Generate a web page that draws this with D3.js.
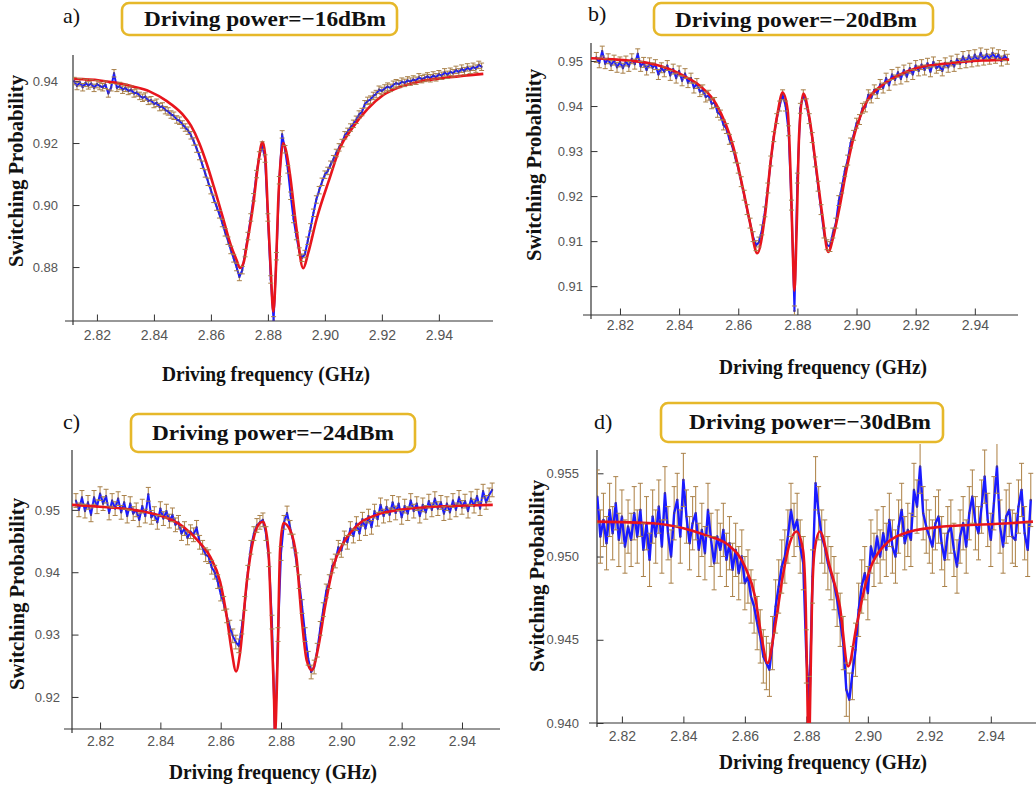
<!DOCTYPE html>
<html>
<head>
<meta charset="utf-8">
<script src="https://cdn.jsdelivr.net/npm/d3@7/dist/d3.min.js"></script>
<style>
html,body{margin:0;padding:0;background:#fff;}
svg{display:block;}
</style>
</head>
<body>
<svg id="fig" width="1036" height="788"></svg>
<script>
// Driving-frequency sweep (GHz), shared by the four measurements
const sweep = [
 2.812,2.813,2.814,2.815,2.816,2.817,2.818,2.819,2.820,2.821,
 2.822,2.823,2.824,2.825,2.826,2.827,2.828,2.829,2.830,2.831,
 2.832,2.833,2.834,2.835,2.836,2.837,2.838,2.839,2.840,2.841,
 2.842,2.843,2.844,2.845,2.846,2.847,2.848,2.849,2.850,2.851,
 2.852,2.853,2.854,2.855,2.856,2.857,2.858,2.859,2.860,2.861,
 2.862,2.863,2.864,2.865,2.866,2.867,2.868,2.869,2.870,2.871,
 2.872,2.873,2.874,2.875,2.876,2.877,2.878,2.879,2.880,2.881,
 2.882,2.883,2.884,2.885,2.886,2.887,2.888,2.889,2.890,2.891,
 2.892,2.893,2.894,2.895,2.896,2.897,2.898,2.899,2.900,2.901,
 2.902,2.903,2.904,2.905,2.906,2.907,2.908,2.909,2.910,2.911,
 2.912,2.913,2.914,2.915,2.916,2.917,2.918,2.919,2.920,2.921,
 2.922,2.923,2.924,2.925,2.926,2.927,2.928,2.929,2.930,2.931,
 2.932,2.933,2.934,2.935,2.936,2.937,2.938,2.939,2.940,2.941,
 2.942,2.943,2.944,2.945,2.946,2.947,2.948,2.949,2.950,2.951,
 2.952,2.953,2.954,2.955
];

// Measured switching probability, driving power -16 dBm
const probA = [
 0.9400,0.9384,0.9396,0.9380,0.9394,0.9386,0.9392,0.9378,0.9390,0.9384,
 0.9380,0.9388,0.9360,0.9380,0.9425,0.9378,0.9384,0.9372,0.9378,0.9368,
 0.9372,0.9360,0.9363,0.9352,0.9346,0.9350,0.9336,0.9338,0.9326,0.9330,
 0.9316,0.9318,0.9306,0.9302,0.9292,0.9288,0.9276,0.9272,0.9260,0.9250,
 0.9240,0.9225,0.9205,0.9182,0.9158,0.9130,0.9102,0.9075,0.9048,0.9020,
 0.8995,0.8970,0.8942,0.8912,0.8885,0.8855,0.8828,0.8800,0.8768,0.8790,
 0.8845,0.8900,0.8960,0.9025,0.9100,0.9160,0.9192,0.9150,0.8960,0.8760,
 0.8628,0.8835,0.9080,0.9228,0.9180,0.9115,0.9030,0.8955,0.8900,0.8850,
 0.8830,0.8842,0.8885,0.8928,0.8975,0.9018,0.9048,0.9075,0.9098,0.9110,
 0.9130,0.9148,0.9168,0.9186,0.9200,0.9225,0.9236,0.9250,0.9262,0.9275,
 0.9292,0.9300,0.9325,0.9336,0.9340,0.9352,0.9358,0.9372,0.9368,0.9376,
 0.9382,0.9378,0.9388,0.9393,0.9390,0.9398,0.9394,0.9402,0.9398,0.9405,
 0.9401,0.9412,0.9406,0.9410,0.9415,0.9409,0.9418,0.9412,0.9422,0.9417,
 0.9428,0.9420,0.9430,0.9425,0.9436,0.9428,0.9440,0.9432,0.9444,0.9436,
 0.9446,0.9440,0.9452,0.9446
];
// Measured switching probability, driving power -20 dBm
const probB = [
 0.9508,0.9496,0.9522,0.9494,0.9505,0.9490,0.9502,0.9486,0.9498,0.9484,
 0.9500,0.9488,0.9505,0.9493,0.9516,0.9488,0.9497,0.9480,0.9496,0.9485,
 0.9492,0.9470,0.9485,0.9476,0.9490,0.9468,0.9482,0.9462,0.9478,0.9456,
 0.9472,0.9452,0.9462,0.9440,0.9450,0.9432,0.9436,0.9420,0.9424,0.9405,
 0.9408,0.9386,0.9380,0.9358,0.9350,0.9326,0.9310,0.9285,0.9262,0.9232,
 0.9202,0.9170,0.9140,0.9110,0.9090,0.9098,0.9125,0.9165,0.9218,0.9278,
 0.9332,0.9372,0.9400,0.9425,0.9400,0.9345,0.9180,0.8945,0.9240,0.9395,
 0.9425,0.9405,0.9372,0.9330,0.9276,0.9222,0.9170,0.9118,0.9092,0.9088,
 0.9118,0.9140,0.9190,0.9218,0.9255,0.9280,0.9318,0.9335,0.9362,0.9370,
 0.9395,0.9398,0.9425,0.9418,0.9436,0.9428,0.9448,0.9440,0.9462,0.9446,
 0.9470,0.9458,0.9475,0.9460,0.9480,0.9465,0.9484,0.9470,0.9490,0.9478,
 0.9492,0.9480,0.9495,0.9476,0.9498,0.9484,0.9490,0.9478,0.9496,0.9486,
 0.9500,0.9488,0.9504,0.9494,0.9510,0.9496,0.9512,0.9498,0.9514,0.9500,
 0.9518,0.9502,0.9515,0.9504,0.9518,0.9506,0.9514,0.9500,0.9512,0.9504
];
// Measured switching probability, driving power -24 dBm
const probC = [
 0.9515,0.9500,0.9520,0.9498,0.9512,0.9492,0.9520,0.9505,0.9526,0.9510,
 0.9522,0.9495,0.9515,0.9502,0.9518,0.9496,0.9512,0.9490,0.9510,0.9494,
 0.9500,0.9484,0.9506,0.9490,0.9525,0.9488,0.9494,0.9480,0.9502,0.9486,
 0.9498,0.9482,0.9492,0.9476,0.9480,0.9462,0.9470,0.9455,0.9465,0.9460,
 0.9472,0.9448,0.9440,0.9428,0.9425,0.9408,0.9400,0.9385,0.9365,0.9350,
 0.9330,0.9312,0.9298,0.9288,0.9282,0.9312,0.9350,0.9400,0.9440,0.9462,
 0.9475,0.9480,0.9484,0.9462,0.9420,0.9320,0.9135,0.9300,0.9430,0.9480,
 0.9495,0.9472,0.9450,0.9420,0.9385,0.9345,0.9300,0.9262,0.9240,0.9248,
 0.9275,0.9310,0.9340,0.9370,0.9385,0.9410,0.9418,0.9440,0.9435,0.9455,
 0.9448,0.9470,0.9458,0.9478,0.9462,0.9485,0.9470,0.9490,0.9472,0.9498,
 0.9485,0.9508,0.9490,0.9505,0.9492,0.9512,0.9495,0.9510,0.9488,0.9506,
 0.9494,0.9515,0.9498,0.9510,0.9490,0.9508,0.9496,0.9514,0.9500,0.9518,
 0.9502,0.9512,0.9494,0.9510,0.9496,0.9515,0.9500,0.9520,0.9504,0.9514,
 0.9498,0.9518,0.9506,0.9522,0.9502,0.9530,0.9512,0.9524,0.9532
];
// Measured switching probability, driving power -30 dBm
const probD = [
 0.9536,0.9512,0.9522,0.9508,0.9528,0.9514,0.9532,0.9510,0.9524,0.9506,
 0.9518,0.9510,0.9526,0.9512,0.9528,0.9504,0.9520,0.9498,0.9524,0.9512,
 0.9530,0.9506,0.9538,0.9514,0.9500,0.9526,0.9534,0.9512,0.9546,0.9524,
 0.9508,0.9520,0.9526,0.9504,0.9516,0.9502,0.9528,0.9510,0.9496,0.9512,
 0.9504,0.9516,0.9498,0.9508,0.9492,0.9504,0.9490,0.9500,0.9484,0.9488,
 0.9476,0.9470,0.9460,0.9452,0.9440,0.9436,0.9432,0.9448,0.9470,0.9482,
 0.9494,0.9500,0.9512,0.9528,0.9516,0.9522,0.9506,0.9496,0.9440,0.9412,
 0.9488,0.9544,0.9526,0.9512,0.9506,0.9496,0.9490,0.9484,0.9474,0.9462,
 0.9448,0.9420,0.9414,0.9430,0.9444,0.9468,0.9482,0.9490,0.9478,0.9506,
 0.9498,0.9512,0.9500,0.9514,0.9504,0.9522,0.9506,0.9500,0.9518,0.9528,
 0.9508,0.9516,0.9510,0.9540,0.9530,0.9554,0.9526,0.9518,0.9512,0.9506,
 0.9520,0.9524,0.9508,0.9498,0.9514,0.9518,0.9504,0.9494,0.9512,0.9520,
 0.9506,0.9526,0.9536,0.9520,0.9514,0.9530,0.9548,0.9522,0.9510,0.9532,
 0.9554,0.9518,0.9506,0.9524,0.9528,0.9512,0.9510,0.9530,0.9540,0.9514,
 0.9504,0.9534
];

// Half-length of the error bars for each measurement
const errA = 0.0012, errB = 0.0011, errC = 0.0011, errD = 0.0016;

// Fitted curves (three-dip model), sampled as frequency / probability pairs
const fitFreqA = [2.812,2.821,2.827,2.8327,2.8386,2.8444,2.850,2.853,2.856,2.8585,2.861,2.8643,2.867,2.869,2.8702,2.8715,2.8725,2.8749,2.8766,2.8781,2.8790,2.8800,2.8810,2.8819,2.8828,2.8836,2.8845,2.8854,2.8865,2.8877,2.8901,2.8924,2.8941,2.8971,2.9018,2.9053,2.9094,2.915,2.9205,2.926,2.9322,2.9439,2.9556];
const fitProbA = [0.9407,0.9402,0.9394,0.9382,0.9366,0.9336,0.9293,0.9256,0.9198,0.9134,0.9060,0.8956,0.8870,0.8823,0.8797,0.8815,0.8866,0.9005,0.9134,0.9204,0.9165,0.8975,0.8790,0.8656,0.8790,0.9005,0.9145,0.9200,0.9170,0.9102,0.8919,0.8796,0.8844,0.8955,0.9090,0.9185,0.9245,0.9310,0.9355,0.9380,0.9396,0.9412,0.9423];

const fitFreqB = [2.8102,2.819,2.830,2.836,2.841,2.847,2.8525,2.8583,2.8617,2.8640,2.8664,2.8690,2.8710,2.8733,2.8750,2.8767,2.8778,2.8786,2.8790,2.8797,2.8806,2.8820,2.8840,2.8863,2.8885,2.8904,2.8925,2.8944,2.8965,2.8988,2.9033,2.9088,2.9144,2.9201,2.9313,2.9426,2.9516];
const fitProbB = [0.9506,0.9503,0.9495,0.9484,0.9469,0.9445,0.9405,0.9310,0.9213,0.9140,0.9073,0.9155,0.9280,0.9384,0.9430,0.9391,0.9228,0.9043,0.8990,0.9117,0.9339,0.9428,0.9376,0.9265,0.9154,0.9076,0.9120,0.9180,0.9255,0.9325,0.9408,0.9447,0.9469,0.9484,0.9495,0.9501,0.9503];

const fitFreqC = [2.8106,2.820,2.831,2.8366,2.8422,2.8476,2.8531,2.8565,2.8598,2.862,2.8636,2.8651,2.8664,2.8686,2.8708,2.873,2.8741,2.8758,2.8769,2.8777,2.8780,2.8788,2.8797,2.8808,2.883,2.8852,2.8868,2.8885,2.8902,2.8924,2.8946,2.8973,2.9007,2.9062,2.9117,2.9194,2.9305,2.9415,2.9502];
const fitProbC = [0.9508,0.9505,0.9500,0.9495,0.9487,0.9473,0.9447,0.9425,0.9385,0.9329,0.9275,0.9241,0.9270,0.9382,0.9452,0.9479,0.9481,0.9436,0.9302,0.9195,0.9140,0.9249,0.9436,0.9479,0.9468,0.9420,0.9329,0.9259,0.9243,0.9281,0.9345,0.9409,0.9447,0.9479,0.9492,0.9500,0.9505,0.9507,0.9508];

const fitFreqD = [2.8120,2.830,2.840,2.847,2.8546,2.860,2.8633,2.8654,2.8674,2.8698,2.8725,2.8746,2.8768,2.8789,2.8798,2.8804,2.8808,2.8812,2.8818,2.8827,2.8844,2.8876,2.8909,2.8936,2.8963,2.8996,2.9050,2.9137,2.9245,2.9462,2.9537];
const fitProbD = [0.9521,0.9520,0.9517,0.9513,0.9507,0.9494,0.9476,0.9452,0.9436,0.9458,0.9490,0.9508,0.9515,0.9504,0.9470,0.9410,0.9370,0.9410,0.9470,0.9504,0.9515,0.9494,0.9470,0.9434,0.9458,0.9486,0.9506,0.9515,0.9518,0.9520,0.9521];

// Axis ticks and their labels
const xTickVals = [2.82, 2.84, 2.86, 2.88, 2.90, 2.92, 2.94];
const xTickLabels = ["2.82", "2.84", "2.86", "2.88", "2.90", "2.92", "2.94"];
const yTickValsA = [0.88, 0.90, 0.92, 0.94];
const yTickLabelsA = ["0.88", "0.90", "0.92", "0.94"];
const yTickValsB = [0.90, 0.91, 0.92, 0.93, 0.94, 0.95];
const yTickLabelsB = ["0.91", "0.91", "0.92", "0.93", "0.94", "0.95"];
const yTickValsC = [0.92, 0.93, 0.94, 0.95];
const yTickLabelsC = ["0.92", "0.93", "0.94", "0.95"];
const yTickValsD = [0.940, 0.945, 0.950, 0.955];
const yTickLabelsD = ["0.940", "0.945", "0.950", "0.955"];

const panelLetters = ["a)", "b)", "c)", "d)"];
const powerLabels = ["Driving power=\u221216dBm", "Driving power=\u221220dBm", "Driving power=\u221224dBm", "Driving power=\u221230dBm"];
const xTitle = "Driving frequency (GHz)";
const yTitle = "Switching Probability";

// Layout of each panel
const panels = [
  { prob: probA, err: errA, fitF: fitFreqA, fitP: fitProbA, yTicks: yTickValsA, yLabels: yTickLabelsA, yMinor: 0.005,
    xDomain: [2.8116, 2.959], yDomain: [0.8626, 0.9484], left: 73, right: 493, top: 55, bottom: 321,
    xLabOff: 14, yLabPad: 15, dataWidth: 2,
    letter: { x: 63, y: 23 }, box: { x: 122, y: 3, w: 275, h: 32 }, boxText: { x: 265, y: 26 },
    xTitle: { x: 266, y: 381 }, yTitle: { x: 23, y: 171 } },
  { prob: probB, err: errB, fitF: fitFreqB, fitP: fitProbB, yTicks: yTickValsB, yLabels: yTickLabelsB, yMinor: 0.002,
    xDomain: [2.8102, 2.9546], yDomain: [0.8936, 0.9540], left: 591, right: 1018, top: 43, bottom: 315,
    xLabOff: 10, yLabPad: 8, dataWidth: 2,
    letter: { x: 588, y: 21 }, box: { x: 654, y: 3, w: 279, h: 32 }, boxText: { x: 796, y: 27 },
    xTitle: { x: 823, y: 374 }, yTitle: { x: 541, y: 165 } },
  { prob: probC, err: errC, fitF: fitFreqC, fitP: fitProbC, yTicks: yTickValsC, yLabels: yTickLabelsC, yMinor: 0.002,
    xDomain: [2.8107, 2.9526], yDomain: [0.91486, 0.9596], left: 72, right: 500, top: 450, bottom: 729,
    xLabOff: 12, yLabPad: 12, dataWidth: 2,
    letter: { x: 63, y: 429 }, box: { x: 131, y: 414, w: 284, h: 38 }, boxText: { x: 273, y: 440 },
    xTitle: { x: 273, y: 779 }, yTitle: { x: 24, y: 594 } },
  { prob: probD, err: errD, fitF: fitFreqD, fitP: fitProbD, yTicks: yTickValsD, yLabels: yTickLabelsD, yMinor: 0.001,
    xDomain: [2.8119, 2.9547], yDomain: [0.9400, 0.9564], left: 597, right: 1036, top: 450, bottom: 723,
    xLabOff: 13, yLabPad: 18, dataWidth: 2.4,
    letter: { x: 594, y: 429 }, box: { x: 661, y: 403, w: 282, h: 39 }, boxText: { x: 810, y: 429 },
    xTitle: { x: 823, y: 769 }, yTitle: { x: 544, y: 576 } }
];

const svg = d3.select("#fig");
svg.append("rect").attr("width", 1036).attr("height", 788).attr("fill", "#fff");
const defs = svg.append("defs");

const serif = "'Liberation Serif', 'DejaVu Serif', serif";
const sans = "'Liberation Sans', Arial, sans-serif";

function stepTicks(domain, step) {
  const lo = Math.ceil(domain[0] / step - 1e-6), hi = Math.floor(domain[1] / step + 1e-6);
  return d3.range(lo, hi + 1).map(k => +(k * step).toFixed(4));
}

panels.forEach((p, idx) => {
  const x = d3.scaleLinear().domain(p.xDomain).range([p.left, p.right]);
  const y = d3.scaleLinear().domain(p.yDomain).range([p.bottom, p.top]);
  const g = svg.append("g");

  // panel letter and power caption
  g.append("text").attr("x", p.letter.x).attr("y", p.letter.y)
    .attr("font-family", serif).attr("font-size", 22).attr("fill", "#111")
    .text(panelLetters[idx]);
  g.append("rect").attr("x", p.box.x).attr("y", p.box.y).attr("width", p.box.w).attr("height", p.box.h)
    .attr("rx", 7).attr("fill", "#fff").attr("stroke", "#e6b82a").attr("stroke-width", 2.6);
  g.append("text").attr("x", p.boxText.x).attr("y", p.boxText.y)
    .attr("text-anchor", "middle").attr("font-family", serif).attr("font-weight", "bold")
    .attr("font-size", 22).attr("fill", "#111")
    .attr("textLength", 242).attr("lengthAdjust", "spacingAndGlyphs")
    .text(powerLabels[idx]);

  // axis titles
  g.append("text").attr("x", p.xTitle.x).attr("y", p.xTitle.y)
    .attr("text-anchor", "middle").attr("font-family", serif).attr("font-weight", "bold")
    .attr("font-size", 21).attr("fill", "#111")
    .attr("textLength", 208).attr("lengthAdjust", "spacingAndGlyphs")
    .text(xTitle);
  g.append("text").attr("transform", `translate(${p.yTitle.x},${p.yTitle.y}) rotate(-90)`)
    .attr("text-anchor", "middle").attr("font-family", serif).attr("font-weight", "bold")
    .attr("font-size", 21).attr("fill", "#111")
    .attr("textLength", 192).attr("lengthAdjust", "spacingAndGlyphs")
    .text(yTitle);

  // axes: inward ticks, major + minor
  const axisColor = "#333";
  const xMinor = stepTicks(p.xDomain, 0.005).filter(v => !xTickVals.some(t => Math.abs(t - v) < 1e-6));
  const yMinor = stepTicks(p.yDomain, p.yMinor).filter(v => !p.yTicks.some(t => Math.abs(t - v) < 1e-6));

  const gx = g.append("g").attr("transform", `translate(0,${p.bottom})`);
  gx.call(d3.axisBottom(x).tickValues(xMinor).tickSize(-3.5).tickSizeOuter(0).tickFormat(""));
  gx.call(d3.axisBottom(x).tickValues(xTickVals).tickSize(-6.5).tickSizeOuter(0).tickPadding(0)
    .tickFormat((d, i) => xTickLabels[i]));
  gx.selectAll(".domain").remove();
  gx.selectAll("line").attr("stroke", axisColor);
  gx.selectAll("text").attr("y", p.xLabOff).attr("dy", "0.35em")
    .attr("font-family", sans).attr("font-size", 14).attr("fill", "#555");

  const gy = g.append("g").attr("transform", `translate(${p.left},0)`);
  gy.call(d3.axisLeft(y).tickValues(yMinor).tickSize(-3.5).tickSizeOuter(0).tickFormat(""));
  gy.call(d3.axisLeft(y).tickValues(p.yTicks).tickSize(-6.5).tickSizeOuter(0).tickPadding(p.yLabPad)
    .tickFormat((d, i) => p.yLabels[i]));
  gy.selectAll(".domain").remove();
  gy.selectAll("line").attr("stroke", axisColor);
  gy.selectAll("text").attr("font-family", sans).attr("font-size", 13).attr("fill", "#555");

  g.append("line").attr("x1", p.left - 8).attr("x2", p.right).attr("y1", p.bottom).attr("y2", p.bottom)
    .attr("stroke", axisColor).attr("stroke-width", 1.2);
  g.append("line").attr("x1", p.left).attr("x2", p.left).attr("y1", p.top).attr("y2", p.bottom + 4)
    .attr("stroke", axisColor).attr("stroke-width", 1.2);

  // clipped plotting area
  const clipId = "plotclip" + idx;
  defs.append("clipPath").attr("id", clipId).append("rect")
    .attr("x", p.left).attr("y", p.top - 6).attr("width", p.right - p.left).attr("height", p.bottom - p.top + 6);
  const plot = g.append("g").attr("clip-path", `url(#${clipId})`);

  const pts = p.prob.map((v, i) => ({ f: sweep[i], v: v }));
  const fit = p.fitF.map((f, i) => ({ f: f, v: p.fitP[i] }));

  plot.append("g").selectAll("line").data(pts).join("line")
    .attr("x1", d => x(d.f)).attr("x2", d => x(d.f))
    .attr("y1", d => y(d.v - p.err)).attr("y2", d => y(d.v + p.err))
    .attr("stroke", "#b38a52").attr("stroke-width", 1.1);

  plot.append("path").datum(pts)
    .attr("d", d3.line().x(d => x(d.f)).y(d => y(d.v)))
    .attr("fill", "none").attr("stroke", "#1a1aff").attr("stroke-width", p.dataWidth).attr("stroke-linejoin", "round");

  plot.append("g").selectAll("circle").data(pts).join("circle")
    .attr("cx", d => x(d.f)).attr("cy", d => y(d.v)).attr("r", 1.1).attr("fill", "#4a3a8a");

  plot.append("path").datum(fit)
    .attr("d", d3.line().curve(d3.curveMonotoneX).x(d => x(d.f)).y(d => y(d.v)))
    .attr("fill", "none").attr("stroke", "#e8141c").attr("stroke-width", 2.6).attr("stroke-linejoin", "round");

  plot.append("g").selectAll("path").data(pts).join("path")
    .attr("d", d => {
      const cx = x(d.f), hi = y(d.v + p.err), lo = y(d.v - p.err);
      return `M${cx - 2.5},${hi}H${cx + 2.5}M${cx - 2.5},${lo}H${cx + 2.5}`;
    })
    .attr("stroke", "#a8804a").attr("stroke-width", 1).attr("fill", "none");
});
</script>
</body>
</html>
